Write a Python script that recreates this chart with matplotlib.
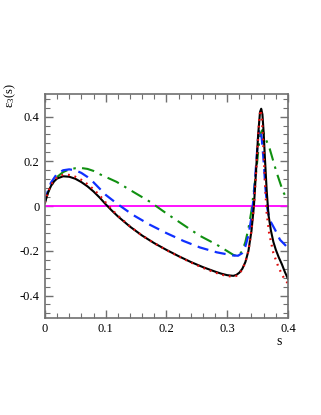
import numpy as np
import matplotlib
matplotlib.use("Agg")
import matplotlib.pyplot as plt
from matplotlib.ticker import MultipleLocator

plt.rcParams['font.family'] = ['Liberation Serif', 'DejaVu Serif']
plt.rcParams['mathtext.fontset'] = 'custom'
plt.rcParams['mathtext.rm'] = 'Liberation Serif'
plt.rcParams['mathtext.it'] = 'Liberation Serif:italic'

# black solid
s_black = [0.0, 0.005, 0.01, 0.015, 0.02, 0.03, 0.04, 0.05, 0.06, 0.07, 0.08, 0.09,
           0.10, 0.11, 0.12, 0.14, 0.16, 0.18, 0.20, 0.22, 0.24, 0.26, 0.28, 0.29,
           0.30, 0.31, 0.315, 0.32, 0.325, 0.33, 0.335, 0.34, 0.344, 0.348, 0.351,
           0.354, 0.356, 0.358, 0.36, 0.362, 0.365, 0.368, 0.372, 0.376, 0.38,
           0.385, 0.39, 0.395, 0.40]
e_black = [0.015, 0.06, 0.09, 0.11, 0.123, 0.133, 0.131, 0.122, 0.107, 0.088, 0.065, 0.038,
           0.008, -0.02, -0.046, -0.092, -0.132, -0.166, -0.196, -0.224, -0.25, -0.273, -0.293, -0.302,
           -0.309, -0.312, -0.308, -0.298, -0.28, -0.25, -0.2, -0.11, 0.0, 0.18, 0.32,
           0.42, 0.435, 0.41, 0.33, 0.22, 0.07, -0.04, -0.11, -0.16, -0.195,
           -0.23, -0.26, -0.295, -0.325]

# red dotted
s_red = [0.0, 0.005, 0.01, 0.015, 0.02, 0.03, 0.04, 0.05, 0.06, 0.07, 0.08, 0.09,
         0.10, 0.11, 0.12, 0.14, 0.16, 0.18, 0.20, 0.22, 0.24, 0.26, 0.28, 0.29,
         0.30, 0.31, 0.315, 0.32, 0.325, 0.33, 0.335, 0.34, 0.344, 0.348, 0.351,
         0.353, 0.355, 0.357, 0.359, 0.361, 0.363, 0.365, 0.369, 0.376, 0.384,
         0.39, 0.395, 0.40]
e_red = [0.015, 0.062, 0.094, 0.116, 0.128, 0.14, 0.139, 0.131, 0.117, 0.098, 0.075, 0.048,
         0.016, -0.015, -0.043, -0.091, -0.132, -0.166, -0.197, -0.225, -0.252, -0.276, -0.297, -0.306,
         -0.313, -0.316, -0.312, -0.302, -0.283, -0.25, -0.2, -0.11, 0.0, 0.17, 0.31,
         0.4, 0.43, 0.4, 0.3, 0.18, 0.06, -0.03, -0.12, -0.21, -0.27,
         -0.305, -0.33, -0.345]

# blue dashed
s_blue = [0.0, 0.005, 0.01, 0.02, 0.03, 0.04, 0.05, 0.06, 0.07, 0.08, 0.09,
          0.10, 0.118, 0.145, 0.173, 0.20, 0.228, 0.255, 0.283, 0.31, 0.318,
          0.325, 0.33, 0.335, 0.34, 0.344, 0.348, 0.351, 0.353, 0.355, 0.357,
          0.36, 0.363, 0.366, 0.37, 0.379, 0.387, 0.395, 0.40]
e_blue = [0.02, 0.07, 0.105, 0.145, 0.16, 0.164, 0.16, 0.148, 0.13, 0.106, 0.078,
          0.05, 0.012, -0.04, -0.084, -0.121, -0.156, -0.185, -0.207, -0.221, -0.222,
          -0.21, -0.18, -0.13, -0.05, 0.05, 0.2, 0.31, 0.345, 0.34, 0.3,
          0.2, 0.08, -0.01, -0.062, -0.107, -0.151, -0.173, -0.188]

# green dash-dot
s_green = [0.0, 0.005, 0.01, 0.02, 0.03, 0.04, 0.05, 0.06, 0.07, 0.08, 0.0905,
           0.118, 0.145, 0.173, 0.20, 0.228, 0.255, 0.283, 0.31, 0.318,
           0.325, 0.33, 0.335, 0.34, 0.344, 0.348, 0.352, 0.355, 0.358, 0.362,
           0.37, 0.381, 0.392, 0.40]
e_green = [0.02, 0.06, 0.09, 0.13, 0.152, 0.164, 0.169, 0.17, 0.166, 0.157, 0.142,
           0.108, 0.064, 0.019, -0.033, -0.084, -0.133, -0.173, -0.218, -0.225,
           -0.2, -0.16, -0.1, -0.02, 0.07, 0.16, 0.27, 0.325, 0.34, 0.31,
           0.256, 0.153, 0.064, 0.025]

fig = plt.figure(figsize=(3.21, 4.15), dpi=100)
ax = fig.add_axes([0.140, 0.234, 0.757, 0.539])

ax.axhline(0, color='#ff00ff', lw=1.3)
ax.plot(s_green, e_green, color='#109010', lw=1.5, linestyle=(0, (6, 3, 1.2, 3)))
ax.plot(s_blue, e_blue, color='#1030ff', lw=1.6, linestyle=(0, (5, 3)))
ax.plot(s_black, e_black, color='black', lw=1.5)
ax.plot(s_red, e_red, color='#e01010', lw=1.6, linestyle=(0, (0.8, 2.2)))

ax.set_xlim(0, 0.4)
ax.set_ylim(-0.5, 0.5)
ax.xaxis.set_minor_locator(MultipleLocator(0.02))
ax.yaxis.set_minor_locator(MultipleLocator(0.04))
ax.set_xticks([0, 0.1, 0.2, 0.3, 0.4])
ax.set_xticklabels(['0', '0.1', '0.2', '0.3', '0.4'])
ax.set_yticks([-0.4, -0.2, 0, 0.2, 0.4])
ax.set_yticklabels(['-0.4', '-0.2', '0', '0.2', '0.4'])
ax.tick_params(which='both', direction='in', top=True, right=True,
               color='#707070', labelsize=9, pad=4)
ax.tick_params(which='major', length=6, width=1)
ax.tick_params(which='minor', length=3.5, width=0.8)
for sp in ax.spines.values():
    sp.set_color('#707070')
    sp.set_linewidth(1.2)

fig.text(0.032, 0.800, r'$\mathrm{\varepsilon}_{3}$(s)', rotation=90,
         fontsize=9, ha='center', va='top')
fig.text(0.869, 0.176, 's', fontsize=10, ha='center', va='center')

fig.savefig('out.png', dpi=100)
